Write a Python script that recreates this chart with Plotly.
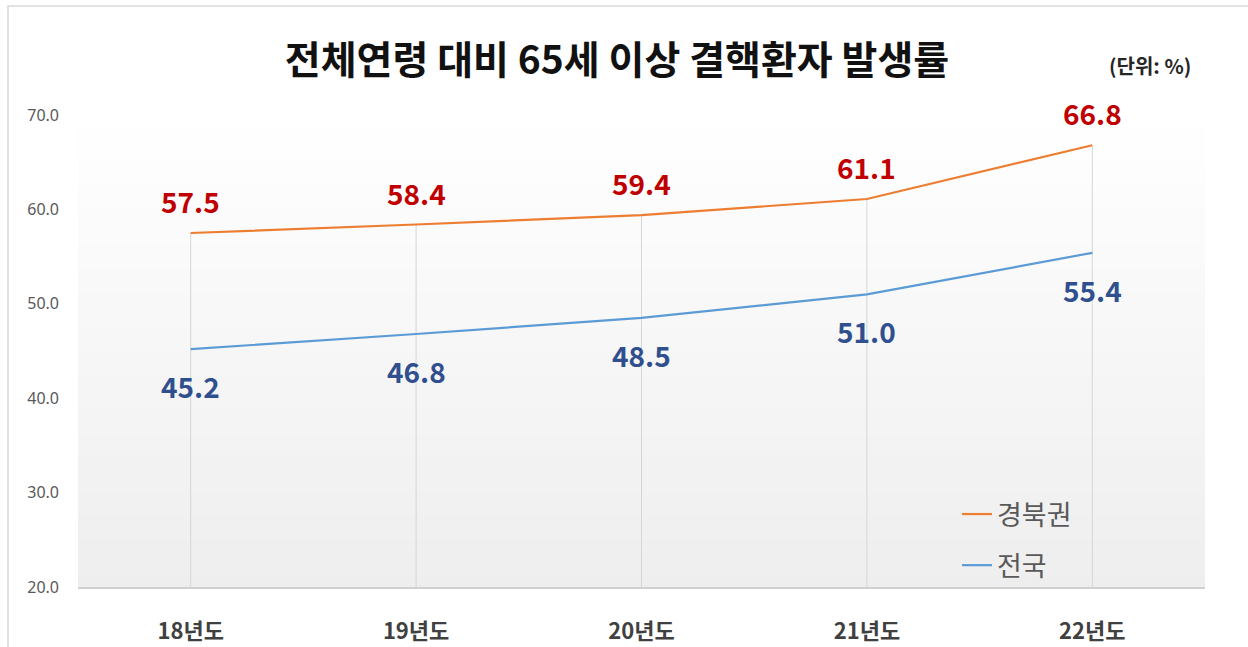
import plotly.graph_objects as go

years = ["18년도", "19년도", "20년도", "21년도", "22년도"]
gyeongbuk = [57.5, 58.4, 59.4, 61.1, 66.8]
national = [45.2, 46.8, 48.5, 51.0, 55.4]
series_names = ["경북권", "전국"]
y_ticks = [20, 30, 40, 50, 60, 70]

W, H = 1248, 647
ML, MR, MT, MB = 78, 43, 115, 60
PW = W - ML - MR
PH = H - MT - MB

ORANGE = "#ED7D31"
BLUE = "#5B9BD5"
RED_LBL = "#C00000"
BLUE_LBL = "#2F4F8F"
KFONT = "Noto Sans CJK KR"

fig = go.Figure()

# drop lines from the top series to the axis
dx, dy = [], []
for c, v in zip(years, gyeongbuk):
    dx += [c, c, None]
    dy += [y_ticks[0], v, None]
fig.add_trace(go.Scatter(x=dx, y=dy, mode="lines",
                         line=dict(color="#d6d6d6", width=1),
                         showlegend=False, hoverinfo="skip"))

fig.add_trace(go.Scatter(x=years, y=gyeongbuk, mode="lines", name=series_names[0],
                         line=dict(color=ORANGE, width=2.2), legendgroup="a"))
fig.add_trace(go.Scatter(x=years, y=national, mode="lines", name=series_names[1],
                         line=dict(color=BLUE, width=2.2), legendgroup="b"))

annotations = []
for c, v in zip(years, gyeongbuk):
    annotations.append(dict(x=c, y=v, text=f"<b>{v:.1f}</b>", showarrow=False,
                            yshift=32, font=dict(family=KFONT, size=28, color=RED_LBL),
                            xanchor="center", yanchor="middle"))
for c, v in zip(years, national):
    annotations.append(dict(x=c, y=v, text=f"<b>{v:.1f}</b>", showarrow=False,
                            yshift=-37, font=dict(family=KFONT, size=28, color=BLUE_LBL),
                            xanchor="center", yanchor="middle"))

annotations.append(dict(xref="paper", yref="paper",
                        x=(1150 - ML) / PW, y=(H - MB - 66) / PH,
                        text="<b>(단위: %)</b>", showarrow=False,
                        font=dict(family=KFONT, size=20, color="#262626"),
                        xanchor="center", yanchor="middle"))

shapes = []
# gradient plot background
N = 40
top = (255, 255, 255)
bot = (238, 238, 238)
for i in range(N):
    t = (i + 0.5) / N
    col = tuple(round(top[k] + (bot[k] - top[k]) * t) for k in range(3))
    shapes.append(dict(type="rect", xref="paper", yref="paper",
                       x0=0, x1=1, y0=1 - (i + 1) / N, y1=1 - i / N + 0.001,
                       fillcolor="rgb(%d,%d,%d)" % col, line=dict(width=0),
                       layer="below"))
# outer frame
shapes.append(dict(type="rect", xref="paper", yref="paper",
                   x0=(8 - ML) / PW, x1=(W + 20 - ML) / PW,
                   y0=(H - MB - (H + 20)) / PH, y1=(H - MB - 6) / PH,
                   line=dict(color="#d9d9d9", width=1.5), fillcolor="rgba(0,0,0,0)",
                   layer="below"))

fig.update_layout(
    width=W, height=H,
    margin=dict(l=ML, r=MR, t=MT, b=MB, autoexpand=False),
    paper_bgcolor="white",
    plot_bgcolor="rgba(0,0,0,0)",
    title=dict(text="<b>전체연령 대비 65세 이상 결핵환자 발생률</b>",
               x=617 / W, xref="container", xanchor="center",
               y=1 - 60 / H, yref="container", yanchor="middle",
               font=dict(family=KFONT, size=39, color="#111111")),
    font=dict(family=KFONT),
    showlegend=True,
    legend=dict(x=(957 - ML) / PW, y=(H - MB - 490) / PH, xanchor="left", yanchor="top",
                bgcolor="rgba(0,0,0,0)", font=dict(family=KFONT, size=27, color="#595959"),
                traceorder="grouped", tracegroupgap=13),
    annotations=annotations,
    shapes=shapes,
    hovermode=False,
)
fig.update_xaxes(showgrid=False, zeroline=False, showline=True, automargin=False,
                 range=[-0.5, len(years) - 0.5],
                 linecolor="#d0d0d0", linewidth=1.5, ticks="",
                 tickfont=dict(family=KFONT, size=22, color="#404040"),
                 ticklabelstandoff=24, tickprefix="<b>", ticksuffix="</b>")
fig.update_yaxes(range=[20, 70], tickvals=y_ticks, automargin=False,
                 ticktext=[f"{v:.1f}" for v in y_ticks],
                 showgrid=False, zeroline=False, showline=False, ticks="",
                 tickfont=dict(family="Noto Sans", size=16, color="#595959"),
                 ticklabelstandoff=18)

fig.write_html("out.html", config={"displayModeBar": False},
               post_script="document.body.style.margin='0';document.body.style.overflow='hidden';")
